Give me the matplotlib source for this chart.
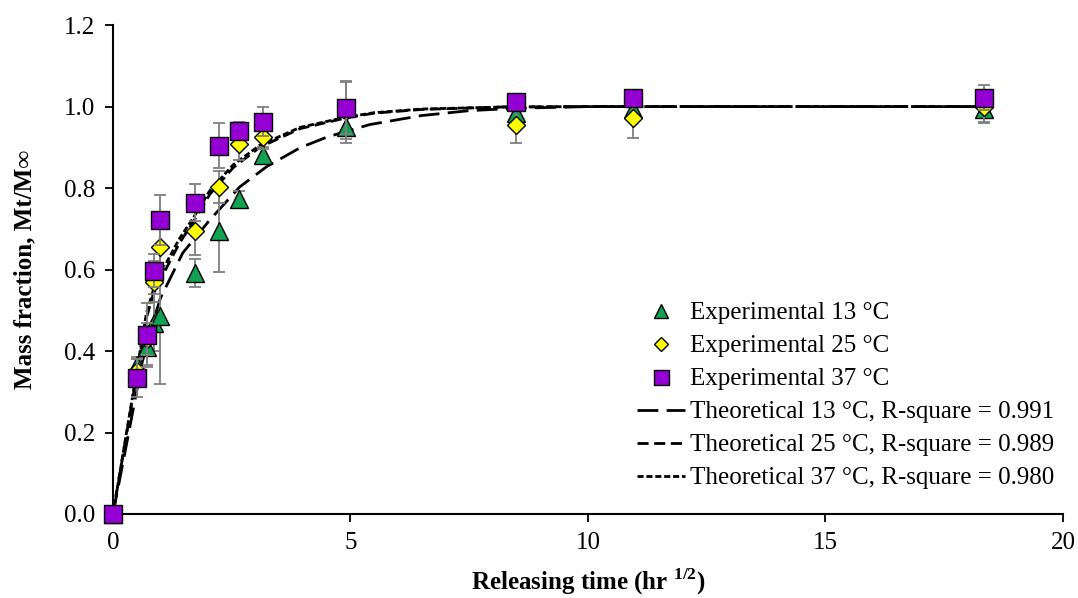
import matplotlib
matplotlib.use("Agg")
import matplotlib.pyplot as plt

plt.rcParams['font.family'] = ['Liberation Serif', 'DejaVu Serif']
plt.rcParams['mathtext.fontset'] = 'custom'
plt.rcParams['mathtext.rm'] = 'Liberation Serif'
plt.rcParams['mathtext.bf'] = 'Liberation Serif:bold'

# sqrt of sampling time (hr^1/2)
t_sqrt = [0, 0.5, 0.707, 0.866, 1.0, 1.732, 2.236, 2.646, 3.162, 4.899, 8.485, 10.954, 18.330]

# experimental mass fraction and error
m13 = [0, 0.365, 0.41, 0.47, 0.485, 0.592, 0.695, 0.774, 0.88, 0.951, 0.985, 0.995, 0.993]
e13 = [0, 0.02, 0.045, 0.07, 0.165, 0.035, 0.1, 0.02, 0.02, 0.04, 0.02, 0.02, 0.03]
m25 = [0, 0.35, 0.43, 0.57, 0.656, 0.695, 0.803, 0.909, 0.926, 0.99, 0.955, 0.973, 1.0]
e25 = [0, 0.03, 0.04, 0.05, 0.05, 0.06, 0.04, 0.04, 0.03, 0.07, 0.045, 0.05, 0.04]
m37 = [0, 0.334, 0.44, 0.597, 0.722, 0.764, 0.904, 0.941, 0.963, 0.997, 1.012, 1.022, 1.022]
e37 = [0, 0.047, 0.078, 0.04, 0.062, 0.045, 0.055, 0.02, 0.035, 0.065, 0.01, 0.01, 0.03]

# theoretical curves
x_th13 = [0, 0.3, 0.61, 0.8, 1.0, 1.47, 2.04, 2.67, 3.24, 3.94, 4.5, 5.41, 6.5, 7.5, 8.5, 10, 18.33]
y_th13 = [0, 0.18, 0.37, 0.455, 0.53, 0.641, 0.722, 0.803, 0.853, 0.899, 0.925, 0.956, 0.978, 0.99, 0.996, 1.0, 1.0]
x_th25 = [0, 0.35, 0.7, 0.85, 1.14, 1.4, 1.68, 2.04, 2.53, 3.09, 3.94, 4.9, 5.5, 6.5, 8.2, 10, 18.33]
y_th25 = [0, 0.24, 0.48, 0.54, 0.607, 0.665, 0.715, 0.785, 0.85, 0.9, 0.946, 0.972, 0.984, 0.993, 0.999, 1.0, 1.0]
x_th37 = [0, 0.35, 0.7, 0.85, 1.14, 1.4, 1.68, 2.04, 2.53, 3.09, 3.94, 4.9, 5.5, 6.5, 8.2, 10, 18.33]
y_th37 = [0, 0.245, 0.49, 0.55, 0.62, 0.676, 0.725, 0.794, 0.857, 0.905, 0.949, 0.974, 0.985, 0.994, 0.999, 1.0, 1.0]

fig = plt.figure(figsize=(10.78, 5.98), dpi=100)
ax = fig.add_axes([0.1048, 0.1405, 0.8812, 0.8175])

lw = 2.0
ax.plot(x_th13, y_th13, color='black', lw=lw, dashes=(7.5, 3), zorder=2,
        label='Theoretical 13 °C, R-square = 0.991')
ax.plot(x_th25, y_th25, color='black', lw=lw, dashes=(4, 2), zorder=2,
        label='Theoretical 25 °C, R-square = 0.989')
ax.plot(x_th37, y_th37, color='black', lw=lw, dashes=(2.2, 1), zorder=2,
        label='Theoretical 37 °C, R-square = 0.980')

series = [
    (m13, e13, '^', '#12A052', 13, 'Experimental 13 °C'),
    (m25, e25, 'D', '#FFFF00', 9, 'Experimental 25 °C'),
    (m37, e37, 's', '#9400D3', 13.5, 'Experimental 37 °C'),
]
for i, (m, e, mk, col, ms, lab) in enumerate(series):
    ax.errorbar(t_sqrt, m, yerr=e, fmt='none', ecolor='#7f7f7f', elinewidth=1.3,
                capsize=4, capthick=1.3, zorder=3 + i)
    ax.plot(t_sqrt, m, linestyle='none', marker=mk, ms=ms, mfc=col, mec='black',
            mew=1.0, zorder=3.5 + i, clip_on=False, label=lab)

ax.set_xlim(0, 20)
ax.set_ylim(0, 1.2)
ax.set_xticks([0, 5, 10, 15, 20])
ax.set_yticks([0, 0.2, 0.4, 0.6, 0.8, 1.0, 1.2])
ax.set_yticklabels(['%.1f' % v for v in ax.get_yticks()])
ax.tick_params(labelsize=18, direction='out', length=6, width=1.3, pad=7)
for s in ['top', 'right']:
    ax.spines[s].set_visible(False)
for s in ['left', 'bottom']:
    ax.spines[s].set_linewidth(1.5)

ax.set_xlabel(r'Releasing time (hr $^{\mathbf{1/2}}$)', fontsize=18, fontweight='bold', labelpad=9)
ax.set_ylabel('Mass fraction, Mt/M∞', fontsize=18, fontweight='bold', labelpad=20)

h, l = ax.get_legend_handles_labels()
order = [3, 4, 5, 0, 1, 2]
ax.legend([h[k] for k in order], [l[k] for k in order], loc='upper left',
          bbox_to_anchor=(0.582, 0.512), bbox_transform=fig.transFigure,
          frameon=False, fontsize=18, handlelength=1.9, handletextpad=0.2,
          labelspacing=0.42, markerscale=0.8, borderaxespad=0)

fig.savefig('out.png', dpi=100)
